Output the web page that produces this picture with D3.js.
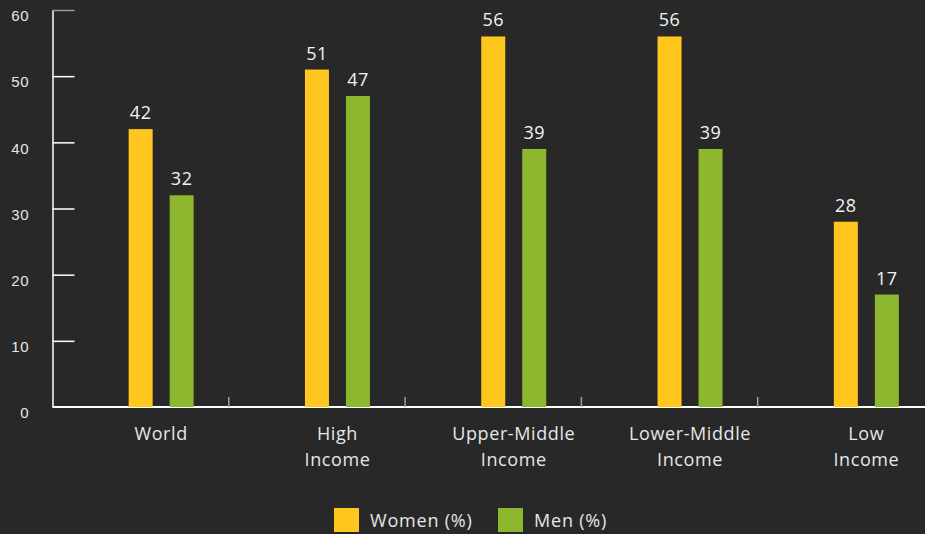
<!DOCTYPE html>
<html>
<head>
<meta charset="utf-8">
<script src="https://cdn.jsdelivr.net/npm/d3@7"></script>
<style>
  html, body { margin: 0; padding: 0; background: #282828; }
  svg { display: block; font-family: "Open Sans", Lato, sans-serif; }
</style>
</head>
<body>
<div id="chart"></div>
<script>
var categories = [["World"], ["High", "Income"], ["Upper-Middle", "Income"], ["Lower-Middle", "Income"], ["Low", "Income"]];
var series = ["Women (%)", "Men (%)"];
var women = [42, 51, 56, 56, 28];
var men = [32, 47, 39, 39, 17];
var yTicks = [0, 10, 20, 30, 40, 50, 60];

var colors = ["#ffc61e", "#8db72e"];
var width = 925, height = 534;
var margin = { top: 10, left: 52.5, bottom: 127 };
var plotBottom = height - margin.bottom;

var svg = d3.select("#chart")
  .append("svg")
  .attr("width", width)
  .attr("height", height);

var x = d3.scaleBand()
  .domain(d3.range(categories.length))
  .range([margin.left, 934])
  .padding(0);

var y = d3.scaleLinear()
  .domain([0, 60])
  .range([plotBottom, margin.top]);

// groups sit a little right of the band centre
var shift = 20.5;
// two bars of 24px with a 17px gap
var inner = d3.scaleBand()
  .domain([0, 1])
  .range([-32.5, 32.5])
  .paddingInner(17 / 41);
var barW = inner.bandwidth();

// y axis
var yAxis = svg.append("g")
  .attr("transform", "translate(" + margin.left + ",0)")
  .call(d3.axisLeft(y).tickValues(yTicks).tickSize(-22).tickSizeOuter(0).tickPadding(23.5));
yAxis.select(".domain").attr("stroke", "#ffffff").attr("stroke-width", 1.5);
yAxis.selectAll(".tick line").attr("stroke", "#ffffff").attr("stroke-width", 1.5);
yAxis.selectAll(".tick").filter(function (d) { return d === 60; }).select("line").attr("stroke", "#9a9a9a");
yAxis.selectAll(".tick").filter(function (d) { return d === 0; }).select("line").remove();
yAxis.selectAll(".tick text")
  .attr("fill", "#e6e6e6")
  .attr("dy", "0.72em")
  .style("font-size", "15px")
  .style("letter-spacing", "0.5px");

// x axis
svg.append("line")
  .attr("x1", margin.left).attr("x2", width)
  .attr("y1", plotBottom).attr("y2", plotBottom)
  .attr("stroke", "#ffffff").attr("stroke-width", 2);

svg.append("g").selectAll("line")
  .data(d3.range(1, categories.length))
  .enter().append("line")
  .attr("x1", function (i) { return x(i); })
  .attr("x2", function (i) { return x(i); })
  .attr("y1", plotBottom - 10)
  .attr("y2", plotBottom)
  .attr("stroke", "#a0a0a0")
  .attr("stroke-width", 1.5);

// bars
var groups = svg.append("g").selectAll("g")
  .data(categories.map(function (c, i) { return [women[i], men[i]]; }))
  .enter().append("g")
  .attr("transform", function (d, i) { return "translate(" + (x(i) + x.bandwidth() / 2 + shift) + ",0)"; });

groups.selectAll("rect")
  .data(function (d) { return d; })
  .enter().append("rect")
  .attr("x", function (d, j) { return inner(j); })
  .attr("width", barW)
  .attr("y", function (d) { return y(d); })
  .attr("height", function (d) { return y(0) - y(d); })
  .attr("fill", function (d, j) { return colors[j]; });

groups.selectAll("text.val")
  .data(function (d) { return d; })
  .enter().append("text")
  .attr("class", "val")
  .attr("x", function (d, j) { return inner(j) + barW / 2; })
  .attr("y", function (d) { return y(d) - 10; })
  .attr("text-anchor", "middle")
  .attr("fill", "#f2f2f2")
  .style("font-size", "18px")
  .style("letter-spacing", "0.5px")
  .text(function (d) { return d; });

// category labels
var labels = svg.append("g").selectAll("text")
  .data(categories)
  .enter().append("text")
  .attr("x", function (d, i) { return x(i) + x.bandwidth() / 2 + shift; })
  .attr("y", 440)
  .attr("text-anchor", "middle")
  .attr("fill", "#e6e6e6")
  .style("font-size", "18px")
  .style("letter-spacing", "0.6px");
labels.selectAll("tspan")
  .data(function (d) { return d; })
  .enter().append("tspan")
  .attr("x", function () { return d3.select(this.parentNode).attr("x"); })
  .attr("dy", function (d, k) { return k === 0 ? 0 : 26; })
  .text(function (d) { return d; });

// legend
var legendX = [334, 498];
var legend = svg.append("g").selectAll("g")
  .data(series)
  .enter().append("g")
  .attr("transform", function (d, i) { return "translate(" + legendX[i] + ",508)"; });
legend.append("rect")
  .attr("width", 25).attr("height", 24)
  .attr("fill", function (d, i) { return colors[i]; });
legend.append("text")
  .attr("x", 36).attr("y", 19)
  .attr("fill", "#e6e6e6")
  .style("font-size", "18px")
  .style("letter-spacing", "0.8px")
  .text(function (d) { return d; });
</script>
</body>
</html>
